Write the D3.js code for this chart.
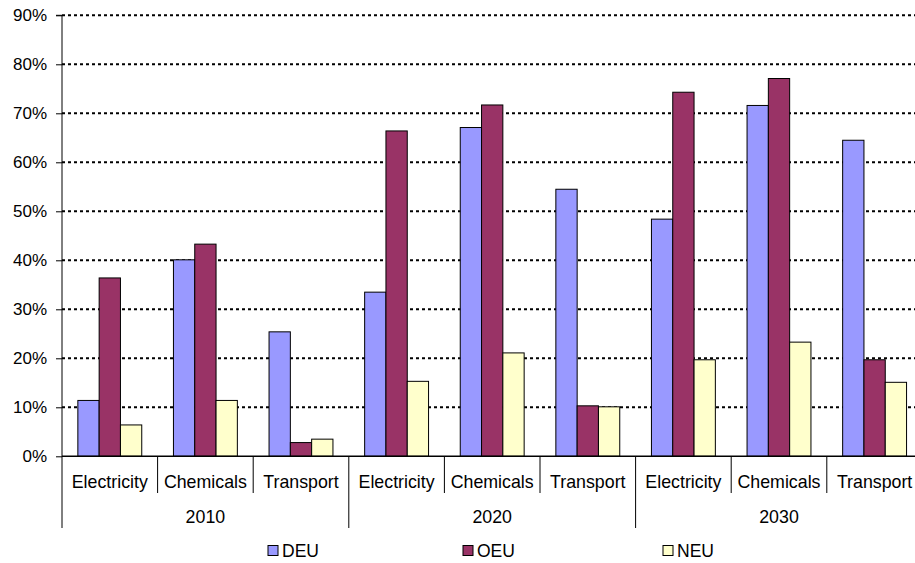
<!DOCTYPE html>
<html><head><meta charset="utf-8">
<script src="https://cdn.jsdelivr.net/npm/d3@7"></script>
<style>body{margin:0;background:#fff}svg{display:block}text{font-family:"Liberation Sans",Arial,sans-serif;fill:#000}</style>
</head><body><svg id="c" width="915" height="563"></svg>
<script>
const years = ["2010","2020","2030"];
const sectors = ["Electricity","Chemicals","Transport"];
const seriesNames = ["DEU","OEU","NEU"];
const colors = ["#9999FF","#993366","#FFFFCC"];
const DEU = [11.4, 40.1, 25.4, 33.5, 67.1, 54.5, 48.4, 71.6, 64.5];
const OEU = [36.4, 43.3, 2.8, 66.4, 71.7, 10.3, 74.3, 77.1, 19.7];
const NEU = [6.4, 11.4, 3.5, 15.3, 21.1, 10.1, 19.7, 23.3, 15.1];
const yTicks = [0,10,20,30,40,50,60,70,80,90];

const series = [DEU, OEU, NEU];
const cats = [];
years.forEach(y => sectors.forEach(s => cats.push({year:y, sector:s})));

const svg = d3.select("#c");
const L = 62, R = 922.4, T = 15.3, B = 456.3;
const x = d3.scaleBand().domain(d3.range(cats.length)).range([L, R]).padding(0);
const xi = d3.scaleBand().domain(d3.range(3)).range([0, x.bandwidth()]).paddingInner(0).paddingOuter(0.744);
const y = d3.scaleLinear().domain([0, 90]).range([B, T]);

// gridlines
svg.append("g").selectAll("line").data(yTicks.filter(d => d > 0)).join("line")
  .attr("x1", L).attr("x2", R).attr("y1", d => y(d)).attr("y2", d => y(d))
  .attr("stroke", "#000").attr("stroke-width", 2).attr("stroke-dasharray", "3,3");

// bars
const g = svg.append("g");
series.forEach((vals, si) => {
  g.append("g").selectAll("rect").data(vals).join("rect")
    .attr("x", (d, i) => x(i) + xi(si))
    .attr("y", d => y(d))
    .attr("width", xi.bandwidth())
    .attr("height", d => B - y(d))
    .attr("fill", colors[si]).attr("stroke", "#000").attr("stroke-width", 1);
});

// y axis
const ya = svg.append("g").attr("transform", `translate(${L},0)`)
  .call(d3.axisLeft(y).tickValues(yTicks).tickFormat(d => d + "%").tickSize(6).tickPadding(9));
ya.select(".domain").attr("stroke", "#000").attr("d", `M-6,${T}H0V${B}`);
ya.selectAll("line").attr("stroke", "#000");
ya.selectAll("text").style("font-size", "17px").attr("font-family", null);

// x axis line
svg.append("line").attr("x1", L).attr("x2", R).attr("y1", B).attr("y2", B).attr("stroke", "#000").attr("stroke-width", 1.5);

// category separators
const sep = svg.append("g");
d3.range(cats.length + 1).forEach(i => {
  const xx = i < cats.length ? x(i) : R;
  const isYear = i % 3 === 0;
  sep.append("line").attr("x1", xx).attr("x2", xx).attr("y1", B).attr("y2", isYear ? 528 : 493)
    .attr("stroke", "#000").attr("stroke-width", 1);
});

// category labels
svg.append("g").selectAll("text").data(cats).join("text")
  .attr("x", (d, i) => x(i) + x.bandwidth() / 2).attr("y", 482).attr("dy", "0.35em")
  .attr("text-anchor", "middle").style("font-size", "17.8px").text(d => d.sector);

// year labels
svg.append("g").selectAll("text").data(years).join("text")
  .attr("x", (d, i) => x(i * 3) + x.bandwidth() * 1.5).attr("y", 517).attr("dy", "0.35em")
  .attr("text-anchor", "middle").style("font-size", "17.8px").text(d => d);

// legend
const legX = [268, 463, 663];
const leg = svg.append("g");
seriesNames.forEach((n, i) => {
  leg.append("rect").attr("x", legX[i]).attr("y", 545.5).attr("width", 10).attr("height", 10)
    .attr("fill", colors[i]).attr("stroke", "#000").attr("stroke-width", 1);
  leg.append("text").attr("x", legX[i] + 14).attr("y", 551).attr("dy", "0.35em")
    .style("font-size", "17.5px").text(n);
});
</script></body></html>
